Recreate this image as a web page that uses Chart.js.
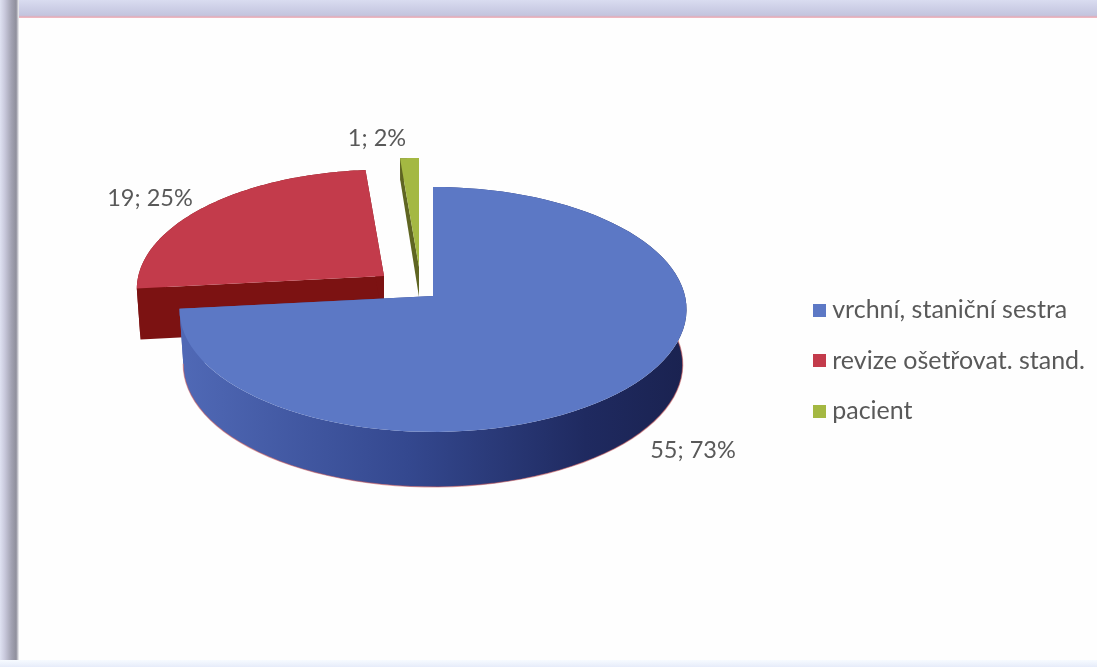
<!DOCTYPE html>
<html lang="cs">
<head>
<meta charset="utf-8">
<title>Graf</title>
<script src="https://cdn.jsdelivr.net/npm/chart.js@4"></script>
<style>
    html, body { margin: 0; padding: 0; background: #fefefe; overflow: hidden; }
    #wrap { position: relative; width: 1097px; height: 667px; }
    #horni { position: absolute; left: 0; top: 0; width: 1097px; height: 18px;
             background: linear-gradient(#d9dcf0, #c3c4de 85%, #e8a9b4 95%, #f4c6cc); }
    #levy { position: absolute; left: 0; top: 0; width: 19px; height: 667px;
            background: linear-gradient(90deg, #dfe2f2 0, #c9c9dc 25%, #a2a2b2 60%, #8f8f9c 85%, #f4f4f6); }
    #dolni { position: absolute; left: 0; top: 660px; width: 1097px; height: 7px;
             background: linear-gradient(#f7fbff, #e6ecfa); }
    canvas { position: absolute; left: 0; top: 0; }
</style>
</head>
<body>
<div id="wrap">
    <div id="horni"></div>
    <div id="levy"></div>
    <div id="dolni"></div>
    <canvas id="grafKolac" width="1097" height="667"></canvas>
</div>
<script>
// Data grafu
const kategorie = ['vrchní, staniční sestra', 'revize ošetřovat. stand.', 'pacient'];
const pocty = [55, 19, 1];
const procenta = [73, 25, 2];

// Vzhled
const barvyVrch = ['#5c78c5', '#c33b4b', '#a4b842'];
const barvyRez = ['#3f58a6', '#7c1212', '#5f6522'];
const stredy = [[433, 296], [384, 276], [419, 267]];   // vrchol kazde vysece po vysunuti
const meritka = [1, 0.975, 1];
const hloubky = [[55, 55], [51, 51], [30, 22]];        // hloubka u vrcholu a na okraji
const pozicePopisku = [[693, 450], [150, 198], [377, 138]];
const sklon = 121;
const perspektiva = 0.11;
const pismo = 'Lato, sans-serif';

// Promitnuti bodu disku (uhel od poledne, po smeru hodin) do roviny obrazu
function promitni(i, theta, r, radius, dole) {
    const u = Math.sin(theta) * r;
    const v = -Math.cos(theta) * r;
    const s = meritka[i] / (1 - perspektiva * v);
    const zmena = dole ? 0.985 : 1;
    const d = dole ? hloubky[i][0] + (hloubky[i][1] - hloubky[i][0]) * r : 0;
    return [stredy[i][0] + radius * u * s * zmena, stredy[i][1] + sklon * v * s + d];
}

function vyplnit(ctx, body, barva) {
    ctx.beginPath();
    body.forEach((b, k) => k ? ctx.lineTo(b[0], b[1]) : ctx.moveTo(b[0], b[1]));
    ctx.closePath();
    ctx.fillStyle = barva;
    ctx.fill();
}

function okraj(i, od, po, radius, dole) {
    const body = [];
    for (let k = 0; k <= 90; k++) {
        body.push(promitni(i, od + (po - od) * k / 90, 1, radius, dole));
    }
    return body;
}

function kresliVysec(ctx, oblouk, i) {
    const od = oblouk.startAngle + Math.PI / 2;
    const po = oblouk.endAngle + Math.PI / 2;
    const radius = oblouk.outerRadius;
    const horni = okraj(i, od, po, radius, false);
    const dolni = okraj(i, od, po, radius, true);

    // Plast - u modre vysece stmavuje doprava
    let plast = barvyRez[i];
    if (i === 0) {
        plast = ctx.createLinearGradient(180, 0, 687, 0);
        plast.addColorStop(0, '#5069b6');
        plast.addColorStop(0.45, '#34488f');
        plast.addColorStop(0.8, '#1f2a60');
        plast.addColorStop(1, '#1a2250');
    }
    vyplnit(ctx, horni.concat(dolni.slice().reverse()), plast);

    // Rezy vysece
    [od, po].forEach(uhel => {
        vyplnit(ctx, [
            promitni(i, uhel, 0, radius, false),
            promitni(i, uhel, 1, radius, false),
            promitni(i, uhel, 1, radius, true),
            promitni(i, uhel, 0, radius, true)
        ], plast);
    });

    // Svetly lem spodni hrany modre vysece
    if (i === 0) {
        ctx.beginPath();
        dolni.forEach((b, k) => k ? ctx.lineTo(b[0], b[1]) : ctx.moveTo(b[0], b[1]));
        ctx.strokeStyle = 'rgba(205, 90, 90, 0.55)';
        ctx.lineWidth = 1.2;
        ctx.stroke();
    }

    // Horni plocha
    vyplnit(ctx, [promitni(i, od, 0, radius, false)].concat(horni), barvyVrch[i]);
}

const kolac3d = {
    id: 'kolac3d',
    // Vlastni vykresleni vysecu, uhly a polomer bere z prvku grafu
    beforeDatasetsDraw(chart) {
        const ctx = chart.ctx;
        const oblouky = chart.getDatasetMeta(0).data;
        ctx.save();
        [2, 1, 0].forEach(i => kresliVysec(ctx, oblouky[i], i));
        ctx.restore();
        return false;
    },
    afterDraw(chart) {
        const ctx = chart.ctx;
        ctx.save();
        ctx.font = '23.5px ' + pismo;
        ctx.fillStyle = '#595959';
        ctx.textAlign = 'center';
        ctx.textBaseline = 'middle';
        pocty.forEach((hodnota, i) => {
            ctx.fillText(hodnota + '; ' + procenta[i] + '%', pozicePopisku[i][0], pozicePopisku[i][1]);
        });
        ctx.restore();
    }
};

// Ctverecek legendy, kresli se jako vlastni znacka kvuli mensi mezere pred textem
function znacka(barva) {
    const c = document.createElement('canvas');
    c.width = 13;
    c.height = 13;
    const g = c.getContext('2d');
    g.fillStyle = barva;
    g.fillRect(0, 0, 13, 13);
    return c;
}

const graf = new Chart(document.getElementById('grafKolac').getContext('2d'), {
    type: 'pie',
    data: {
        labels: kategorie,
        datasets: [{
            data: pocty,
            backgroundColor: barvyVrch,
            borderWidth: 0,
            radius: 252
        }]
    },
    options: {
        responsive: false,
        animation: false,
        layout: { padding: { right: 2, top: 54 } },
        plugins: {
            tooltip: { enabled: false },
            legend: {
                position: 'right',
                labels: {
                    usePointStyle: true,
                    pointStyleWidth: 1,
                    padding: 25.5,
                    color: '#595959',
                    font: { family: pismo, size: 25 },
                    generateLabels(chart) {
                        const polozky = Chart.overrides.pie.plugins.legend.labels.generateLabels(chart);
                        polozky.forEach((p, i) => { p.pointStyle = znacka(barvyVrch[i]); });
                        return polozky;
                    }
                }
            }
        }
    },
    plugins: [kolac3d]
});
</script>
</body>
</html>
